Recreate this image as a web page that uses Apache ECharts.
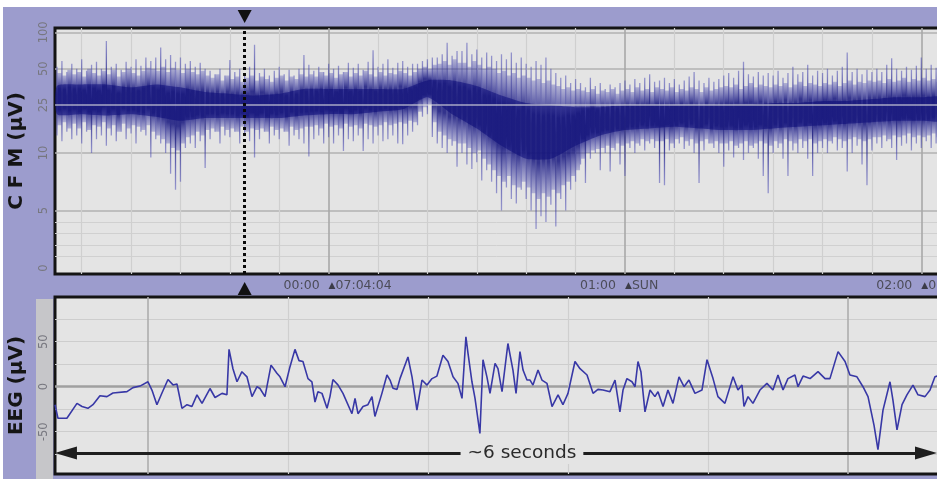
<!DOCTYPE html>
<html><head><meta charset="utf-8">
<script src="https://cdn.jsdelivr.net/npm/echarts@6/dist/echarts.min.js"></script>
<style>
html,body{margin:0;padding:0;background:#fff;}
#wrap{position:relative;width:937px;height:479px;overflow:hidden;background:#fff;}
#bg{position:absolute;left:3px;top:7px;right:0;bottom:0;background:#9c9ccd;}
#strip{position:absolute;left:36px;top:299px;width:17px;height:180px;background:#c6c6c9;}
#c{position:absolute;left:0;top:0;width:937px;height:479px;}
</style></head><body>
<div id="wrap"><div id="bg"></div><div id="strip"></div><div id="c"></div></div>
<script>
// ---------------- DATA ----------------
// CFM trace: one column per minute, minutes relative to the 00:00 marker
const cfmStart = -55;
// outer spikes (extremes) per minute
const cfmHi = [52,58,47,55,50,60,48,54,57,50,85,52,55,49,57,52,60,53,62,
  58,62,75,60,65,57,62,55,58,52,56,50,
  48,45,50,44,59,47,50,45,52,79,46,50,44,48,52,45,49,44,50,65,
  54,48,52,47,55,50,53,47,56,51,55,49,57,71,52,55,60,51,56,58,52,55,
  55,58,60,62,
  62,66,82,64,70,
  70,82,66,72,62,68,
  64,58,66,60,68,56,62,
  55,52,58,54,62,50,
  46,42,44,38,41,
  38,35,42,36,38,34,37,35,38,
  40,37,41,38,42,45,39,
  40,42,38,41,37,40,43,47,40,38,42,39,41,
  44,46,42,48,57,45,43,47,44,46,
  44,48,42,46,52,45,47,54,44,48,
  46,50,44,48,52,68,47,50,45,49,47,
  50,47,54,61,50,48,52,49,53,62,50,54,51,52];
const cfmLo = [14,12.5,15,13,14,12,15,10,13,14,11.5,14,12.5,15,13,14.5,12,15,14,
  9.6,13,12,10,8.2,6.8,7.5,11,12,11,12.5,8.7,
  13,15,12,14,13.5,15,12,14,12.5,9.6,13,15,12,14,13,15,11.5,14,13,12,
  9.7,13,14,12,13.5,12,14,10.4,13,12.5,14,10.4,13,12,14,12.5,13,14,12,11.8,14,15,
  17,20,21,13.6,
  12,11,10,11.5,8.8,
  10,9,8.6,9.2,7.6,8.5,
  7.5,6.5,5.0,7,6,5.6,6.8,
  6,5,3.4,4.5,4.0,5.5,
  3.6,6,5,6.8,7.5,
  9,7.4,9.5,10,8.5,10,8.4,10.5,9,
  8,11,10,11.5,10.5,12,11,
  7.4,7.2,10.5,11,12,10.8,11.5,10,7.4,10.5,12,11,10,
  8.8,10.5,9.6,11,9.4,10,11,9.5,8,6.5,
  10,11,9.5,8,10.5,10,11,9.5,8,10,
  11,10,12,10.5,11,8.4,10,11.5,9,7.2,10.5,
  12,11,12.5,11,9.4,11.5,12,10.5,12,11,12.5,11,12,11.5];
// typical cloud extent per minute (sampled half a minute later)
const cloudHi = [46,44,49,45,47,43,50,46,44,48,45,49,43,47,50,46,44,48,51,
  50,48,52,47,51,49,46,50,47,45,48,44,
  42,45,40,44,41,43,39,42,44,40,43,41,39,42,44,40,43,41,45,43,
  45,43,47,44,46,42,45,47,43,46,44,48,45,43,47,44,46,45,48,46,44,47,
  50,52,50,54,
  55,58,54,60,56,
  56,52,58,54,50,52,
  50,46,48,44,46,42,44,
  42,40,41,38,40,37,
  36,34,35,33,34,
  33,32,34,31,33,32,34,31,33,
  34,32,35,33,34,32,35,
  34,33,35,32,34,33,35,34,32,35,33,34,35,
  36,35,37,34,36,38,35,37,36,35,
  37,36,38,35,37,39,36,38,37,36,
  38,37,39,36,38,40,37,39,38,40,39,
  40,38,41,39,40,42,39,41,40,42,40,41,39,40];
const cloudLo = [17,18,16,17.5,16,18,15.5,17,16.5,18,16,17,15,17.5,16,17,16.5,15.5,17,
  15,14,13,12,11,10.5,12,13.5,14,15,14,15.5,
  16,15,16.5,15.5,16,15,16.5,15,16,15.5,16,15,16.5,15.5,16,15,16.5,15.5,16,16.5,
  16.5,17,16,17.5,16.5,17,16,17.5,16.5,17,16,17.5,17,16.5,17,18,17,17.5,18,17.5,18.5,18,
  22,24,25,18,
  15,14,13,12.5,12,
  12,11,10,10.5,9.5,9,
  8.5,8,7.5,8,7.2,7,7.5,
  7,6.5,6,6.5,6.2,6.8,
  6.5,7.2,7.5,8,8.5,
  9.5,10,10.5,10.8,11,11.5,11,12,11.5,
  12,12.5,12,13,12.5,13,12.5,
  12.5,13,12,13,13.5,12.5,13,12,12.5,13,12,12.5,12,
  12,12.5,11.5,12,12.5,11.5,12,12.5,12,11.5,
  12.5,12,13,12.5,12,13,12.5,13,12,12.5,
  13,12.5,13.5,13,12.5,13,13.5,13,12.5,13,13.5,
  13.5,14,13,14,13.5,14,14.5,13.5,14,13.5,14,14.5,13.5,14];
// envelope of the dark core, every 5 minutes
const coreT  = [-55,-50,-45,-40,-35,-30,-25,-20,-15,-10,-5,0,5,10,15,20,25,30,35,40,45,50,55,60,65,70,75,80,85,90,95,100,105,110,115,120,125];
const coreHi = [36,37,37,35,37,35,32,31,30,31,34,34,34,34,34,40,40,36,30,26,25,24,24,25,25,25,25,25,25,26,26,27,27,28,29,29,29];
const coreLo = [21,21,20.5,21,20,18.5,19.5,19.5,19.5,19.5,20.5,21,21,22,23,29,21,16,11.5,9.5,9.5,11.5,14,15.5,16,16.5,16,15.5,15.5,16,16.5,17,17.5,18,18.5,18.5,18.5];
const cfmTickVals = [0,5,10,25,50,100];
const cfmMinorGrid = [1,2,3,4];
const cfmMajorGrid = [5,10,50,100];
const cfmOverGrid = [25];
const tenMinLines = [-50,-40,-30,-20,-10,10,20,30,40,50,70,80,90,100,110];
const hourTicks = [0,60,120];
const hourLabels = ['00:00','01:00','02:00'];
const hourNotes = ['07:04:04','SUN','07:04:04'];
const cursorT = -17;
// EEG trace: [seconds, µV]
const eegTrace = [[-0.664,-20],[-0.643,-35],[-0.579,-35],[-0.507,-18.5],[-0.471,-22],[-0.429,-24],[-0.393,-20],[-0.343,-10],[-0.293,-11],[-0.25,-7],[-0.15,-5.5],[-0.107,-1],[-0.057,0.7],[0,5.5],[0.029,-4],[0.064,-20],[0.1,-7],[0.143,8],[0.179,2],[0.207,3],[0.243,-24],[0.279,-20],[0.314,-22],[0.35,-9],[0.386,-18.5],[0.443,-2],[0.479,-12],[0.529,-7.4],[0.564,-9],[0.579,41.5],[0.607,20],[0.636,5.5],[0.671,16.7],[0.707,11],[0.743,-11],[0.779,0],[0.8,-2],[0.836,-11],[0.879,24],[0.921,15],[0.943,11],[0.979,0],[1.014,22],[1.05,41.5],[1.079,29],[1.107,28],[1.143,9],[1.171,5.5],[1.193,-17],[1.214,-5.6],[1.243,-7.4],[1.279,-24],[1.3,-11],[1.321,8],[1.357,2],[1.393,-7.4],[1.457,-30],[1.479,-13],[1.5,-30],[1.536,-22],[1.571,-20],[1.6,-11],[1.621,-33],[1.671,-7.4],[1.707,13],[1.729,7.4],[1.75,-1.8],[1.779,-3],[1.8,9],[1.857,33],[1.886,11],[1.921,-26],[1.957,7.4],[1.993,1.8],[2.029,9],[2.064,11.8],[2.107,35],[2.143,28],[2.179,11],[2.214,3.7],[2.243,-13],[2.271,55.5],[2.286,37],[2.314,5.5],[2.336,-13],[2.371,-52],[2.393,30],[2.421,11],[2.443,-7.4],[2.479,26],[2.5,20],[2.529,-5.5],[2.571,48],[2.607,18.5],[2.629,-7.4],[2.657,39],[2.679,18.5],[2.707,7.4],[2.729,7.4],[2.75,1.8],[2.786,18.5],[2.814,7.4],[2.85,3.7],[2.886,-22],[2.929,-9],[2.964,-20],[3.0,-7.4],[3.05,28],[3.086,20],[3.136,13],[3.179,-7.4],[3.214,-3],[3.25,-3.7],[3.3,-5.5],[3.336,7.4],[3.371,-28],[3.393,-3.7],[3.421,9],[3.457,5.5],[3.479,0],[3.5,28],[3.521,16.7],[3.55,-28],[3.586,-3.7],[3.621,-11],[3.643,-5.5],[3.679,-22],[3.714,-3.7],[3.75,-18.5],[3.793,11],[3.829,0],[3.864,7.4],[3.907,-7.4],[3.957,-3.7],[3.993,30],[4.036,9],[4.071,-11],[4.121,-18.5],[4.179,11],[4.214,-3.7],[4.243,1.8],[4.257,-22],[4.286,-11],[4.321,-18.5],[4.371,-3.7],[4.421,3.7],[4.464,-3.7],[4.5,13],[4.536,-3.7],[4.571,9],[4.621,13],[4.643,0],[4.679,11.8],[4.729,9],[4.786,16.7],[4.836,9],[4.871,9],[4.929,39],[4.979,28],[5.014,13],[5.064,11],[5.107,0],[5.143,-11],[5.186,-43],[5.214,-70],[5.25,-26],[5.3,5.5],[5.321,-15],[5.35,-48],[5.386,-20],[5.421,-9],[5.464,1.8],[5.5,-9],[5.55,-11],[5.586,-3.7],[5.621,11],[5.657,13]];
const eegTickVals = [-50,0,50];
const eegGridVals = [-75,-50,-25,25,50,75];
const eegSecMinor = [1,2,3,4];
const eegSecMajor = [0,5];
const arrowSpan = [-0.586, 5.557];
const arrowLevel = -73.7;
const arrowText = '~6 seconds';

// ---------------- SCALE ----------------
// CFM amplitude axis: linear 0-10 µV, logarithmic above 10 µV
const LOG_UNITS = 10.49;
function toD(v){ return v <= 10 ? v : 10 + LOG_UNITS * Math.log10(v / 10); }

const cfmT = cfmHi.map((_, i) => cfmStart + i);
const spikeData = cfmT.map((t, i) => [t, toD(cfmLo[i]), toD(cfmHi[i])]);
const cloudData = cfmT.map((t, i) => [t + 0.5, toD(cloudLo[i]), toD(cloudHi[i])]);
const coreData = coreT.map((t, i) => [t, toD(coreHi[i]), toD(coreLo[i])]);

function polyRenderer(fill){
  return function(params, api){
    if (params.dataIndexInside !== 0) return null;
    const n = params.dataInsideLength;
    const top = [], bot = [];
    for (let i = 0; i < n; i++){
      top.push(api.coord([api.value(0, i), api.value(1, i)]));
      bot.push(api.coord([api.value(0, i), api.value(2, i)]));
    }
    return {type:'polygon', shape:{points: top.concat(bot.reverse()), smooth: 0.2}, style:{fill: fill}};
  };
}
function stickRenderer(width, edge, mid, a0, a1){
  return function(params, api){
    const x = api.value(0);
    const a = api.coord([x, api.value(1)]);
    const b = api.coord([x, api.value(2)]);
    const g = new echarts.graphic.LinearGradient(a[0], b[1], a[0], a[1],
      [{offset: 0, color: edge}, {offset: a0, color: mid}, {offset: a1, color: mid}, {offset: 1, color: edge}], true);
    return {type: 'line', shape: {x1: a[0], y1: a[1], x2: b[0], y2: b[1]}, style: {stroke: g, lineWidth: width}};
  };
}

const FONT = 'DejaVu Sans';
const tickLabel = {fontFamily: FONT, fontSize: 11.5, color: '#77777f'};
const titleStyle = {fontFamily: FONT, fontSize: 20, fontWeight: 'bold', color: '#151515'};
const timeStyle = {fontFamily: FONT, fontSize: 12.5, color: '#4c4c58'};

const cfmLabelMap = {};
cfmTickVals.forEach(v => { cfmLabelMap[toD(v).toFixed(4)] = String(v); });

function hl(vals, color, width){ return vals.map(v => ({yAxis: v, lineStyle:{color: color, width: width, type:'solid'}})); }
function vl(vals, color, width){ return vals.map(v => ({xAxis: v, lineStyle:{color: color, width: width, type:'solid'}})); }
const mlBack = {silent: true, symbol: 'none', label: {show: false}, animation: false, z: 1};
const mlFront = {silent: true, symbol: 'none', label: {show: false}, animation: false, z: 10};
const hiddenAxis = {axisLine: {show: false}, axisTick: {show: false}, splitLine: {show: false}};

const chart = echarts.init(document.getElementById('c'), null, {renderer: 'canvas', width: 937, height: 479});
chart.setOption({
  animation: false,
  backgroundColor: 'transparent',
  grid: [
    {left: 55, top: 28, width: 891, height: 246, show: true, backgroundColor: '#e4e4e4', borderColor: '#141414', borderWidth: 3, containLabel: false, outerBoundsMode: 'none'},
    {left: 55, top: 297, width: 891, height: 177, show: true, backgroundColor: '#e4e4e4', borderColor: '#141414', borderWidth: 3, containLabel: false, outerBoundsMode: 'none'}
  ],
  xAxis: [
    Object.assign({gridIndex: 0, type: 'value', min: -55.4, max: 125, position: 'bottom',
     axisLabel: Object.assign({customValues: hourTicks, margin: 5, align: 'right', padding: [0, 9, 0, 0],
       formatter: (val) => { const i = hourTicks.indexOf(Math.round(val)); return i < 0 ? '' : hourLabels[i]; }}, timeStyle)}, hiddenAxis),
    Object.assign({gridIndex: 1, type: 'value', min: -0.664, max: 5.7, axisLabel: {show: false}}, hiddenAxis),
    Object.assign({gridIndex: 0, type: 'value', min: -55.4, max: 125, position: 'bottom', offset: 0,
     axisLabel: {customValues: hourTicks, margin: 5, align: 'left',
       formatter: (val) => { const i = hourTicks.indexOf(Math.round(val)); return i < 0 ? '' : '{m|▲}{r|' + hourNotes[i] + '}'; },
       rich: {m: {fontFamily: FONT, fontSize: 9, color: '#3c3c48'}, r: timeStyle}}}, hiddenAxis)
  ],
  yAxis: [
    Object.assign({gridIndex: 0, type: 'value', min: -0.52, max: 20.87,
     axisLabel: Object.assign({customValues: cfmTickVals.map(toD), rotate: 90, margin: 5,
       formatter: (val) => cfmLabelMap[Number(val).toFixed(4)] || ''}, tickLabel),
     name: 'C F M (µV)', nameLocation: 'middle', nameRotate: 90, nameGap: 28, nameTextStyle: titleStyle}, hiddenAxis),
    Object.assign({gridIndex: 1, type: 'value', min: -97, max: 99.7,
     axisLabel: Object.assign({customValues: eegTickVals, rotate: 90, margin: 5}, tickLabel),
     name: 'EEG (µV)', nameLocation: 'middle', nameRotate: 90, nameGap: 28, nameTextStyle: titleStyle}, hiddenAxis)
  ],
  series: [
    // CFM background grid
    {type: 'line', xAxisIndex: 0, yAxisIndex: 0, data: [], z: 1,
     markLine: Object.assign({data: [].concat(
        hl(cfmMinorGrid.map(toD), '#d0d0d0', 1),
        hl(cfmMajorGrid.map(toD), '#b2b2b2', 1.5),
        vl(tenMinLines, '#cfcfcf', 1.2),
        vl(hourTicks, '#a8a8a8', 1.6))}, mlBack)},
    {type: 'custom', xAxisIndex: 0, yAxisIndex: 0, z: 2, clip: true, data: coreData,
     encode: {x: 0, y: [1, 2]}, renderItem: polyRenderer('rgba(18,18,115,0.7)')},
    {type: 'custom', xAxisIndex: 0, yAxisIndex: 0, z: 3, clip: true, data: cloudData,
     encode: {x: 0, y: [1, 2]}, renderItem: stickRenderer(4, 'rgba(60,60,170,0.3)', 'rgba(20,20,125,0.85)', 0.3, 0.7)},
    {type: 'custom', xAxisIndex: 0, yAxisIndex: 0, z: 4, clip: true, data: spikeData,
     encode: {x: 0, y: [1, 2]}, renderItem: stickRenderer(1.3, 'rgba(70,70,180,0.5)', 'rgba(20,20,125,0.85)', 0.4, 0.6)},
    {type: 'line', xAxisIndex: 0, yAxisIndex: 0, data: [], z: 5,
     markLine: Object.assign({data: [].concat(
        hl(cfmOverGrid.map(toD), 'rgba(226,226,226,0.7)', 1.5),
        [{xAxis: cursorT, lineStyle: {color: '#0a0a0a', width: 3, type: [3, 3]}}])}, mlFront)},
    // EEG
    {type: 'line', xAxisIndex: 1, yAxisIndex: 1, data: [], z: 1,
     markLine: Object.assign({data: [].concat(
        hl(eegGridVals, '#cdcdcd', 1.2),
        hl([0], '#a0a0a0', 2.5),
        vl(eegSecMinor, '#cfcfcf', 1.2),
        vl(eegSecMajor, '#adadad', 1.6))}, mlBack)},
    {type: 'line', xAxisIndex: 1, yAxisIndex: 1, z: 3, data: eegTrace, showSymbol: false, symbol: 'none',
     lineStyle: {color: '#3838a6', width: 1.6}, clip: true},
    {type: 'line', xAxisIndex: 1, yAxisIndex: 1, data: [], z: 5,
     markLine: {silent: true, animation: false, z: 10, symbol: ['triangle', 'triangle'], symbolSize: [13, 22],
       lineStyle: {color: '#1e1e1e', width: 3, type: 'solid'},
       label: {show: true, position: 'middle', formatter: arrowText, fontFamily: FONT, fontSize: 18.5,
         color: '#2a2a2a', backgroundColor: '#e4e4e4', padding: [1, 7], offset: [26, 16]},
       data: [[{coord: [arrowSpan[0], arrowLevel]}, {coord: [arrowSpan[1], arrowLevel]}]]}}
  ]
});
const cx = chart.convertToPixel({xAxisIndex: 0}, cursorT);
chart.setOption({graphic: [
  {type: 'polygon', shape: {points: [[cx - 7, 10], [cx + 7, 10], [cx, 23]]}, style: {fill: '#111'}},
  {type: 'polygon', shape: {points: [[cx - 7, 295], [cx + 7, 295], [cx, 282]]}, style: {fill: '#111'}}
]});
</script>
</body></html>
